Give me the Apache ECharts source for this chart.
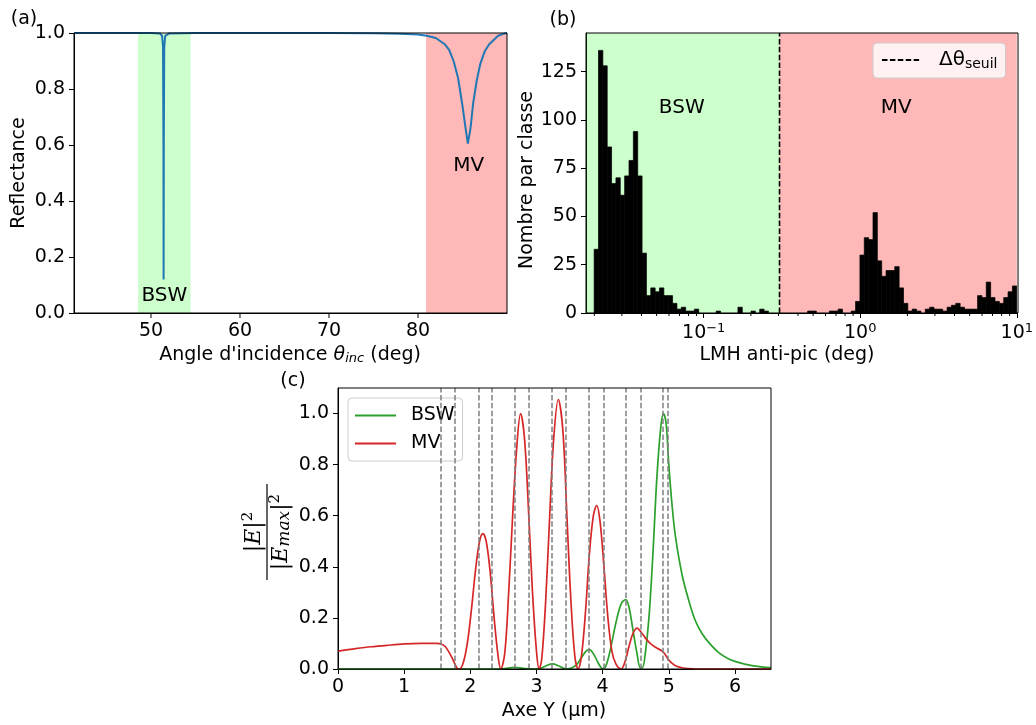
<!DOCTYPE html>
<html><head><meta charset="utf-8">
<script src="https://cdn.jsdelivr.net/npm/echarts@6/dist/echarts.min.js"></script>
<style>html,body{margin:0;padding:0;background:#fff}#c{width:1036px;height:725px}</style>
</head><body><div id="c"></div>
<script>
// ---------- Panel (a): reflectance vs incidence angle ----------
const angleDeg = [41.35,45,48,50,51.0,51.25,51.35,51.40,51.42,51.44,51.49,51.6,52,55,60,70,75,78,80,81,82,83,83.5,84,84.5,85,85.3,85.6,85.9,86.2,86.6,87,87.5,88,88.5,89,89.5,90];
const reflectance = [1.0,1.0,1.0,1.0,0.998,0.99,0.95,0.6,0.12,0.6,0.95,0.99,0.998,1.0,1.0,1.0,0.999,0.997,0.995,0.99,0.982,0.96,0.94,0.9,0.84,0.74,0.67,0.605,0.66,0.75,0.83,0.89,0.935,0.96,0.975,0.99,0.996,1.0];
const bandBswA = [48.54, 54.46];
const bandMvA = [80.9, 90];
const xTicksA = [50, 60, 70, 80];

// ---------- Panel (b): histogram of FWHM (log bins) ----------
const histLog10Start = -1.70;
const histLog10End = 1.0;
const histCounts = [33,136,128,86,67,70,61,71,79,94,71,31,9,13,11,13,9,9,5,2,3,1,1,2,0,0,0,0,1,0,0,0,0,3,0,0,1,0,2,1,0,0,0,0,0,0,0,0,0,1,1,0,0,0,1,1,2,0,0,1,6,30,39,38,52,27,19,22,22,24,13,5,1,2,1,0,2,3,2,2,1,3,4,5,3,2,2,2,9,8,16,8,6,5,8,11,14];
const fwhmThreshold = 0.305;
const xMinB = 0.0177, xMaxB = 10;
const yTicksB = [0,25,50,75,100,125];

// ---------- Panel (c): normalised field profiles ----------
const yBsw = [0,1,2,2.4,2.55,2.66,2.8,2.95,3.05,3.15,3.24,3.34,3.44,3.5,3.6,3.68,3.75,3.8,3.86,3.92,3.97,4.01,4.06,4.12,4.2,4.28,4.35,4.4,4.46,4.52,4.57,4.6,4.64,4.7,4.76,4.82,4.88,4.92,4.96,5.0,5.05,5.1,5.2,5.3,5.4,5.5,5.6,5.75,5.9,6.0,6.2,6.4,6.545];
const eBsw = [0,0,0,0,0.003,0.006,0.003,0,0.002,0.013,0.02,0.012,0.001,0.002,0.015,0.045,0.07,0.076,0.06,0.03,0.008,0,0.02,0.08,0.18,0.255,0.272,0.24,0.15,0.06,0.005,0.005,0.05,0.2,0.45,0.75,0.95,1.0,0.96,0.8,0.64,0.52,0.37,0.27,0.19,0.14,0.105,0.065,0.04,0.03,0.016,0.008,0.005];
const yMv = [0,0.25,0.5,0.75,1.0,1.25,1.5,1.56,1.62,1.68,1.74,1.8,1.84,1.9,1.96,2.02,2.08,2.14,2.19,2.24,2.3,2.36,2.42,2.46,2.52,2.58,2.64,2.7,2.76,2.82,2.88,2.94,3.0,3.04,3.08,3.14,3.2,3.26,3.33,3.4,3.46,3.52,3.58,3.63,3.68,3.74,3.8,3.86,3.91,3.96,4.02,4.08,4.14,4.2,4.28,4.34,4.4,4.46,4.52,4.58,4.65,4.72,4.8,4.9,4.95,5.0,5.05,5.1,5.2,5.3,5.5,6.545];
const eMv = [0.07,0.079,0.087,0.093,0.098,0.1,0.1,0.098,0.088,0.065,0.035,0.003,0,0.03,0.11,0.24,0.39,0.5,0.53,0.5,0.38,0.2,0.05,0,0.06,0.3,0.6,0.86,1.0,0.9,0.62,0.3,0.07,0,0.04,0.27,0.6,0.9,1.055,0.93,0.6,0.27,0.05,0,0.05,0.22,0.45,0.6,0.64,0.58,0.4,0.2,0.07,0.02,0,0.03,0.09,0.14,0.16,0.145,0.12,0.1,0.085,0.07,0.055,0.035,0.022,0.013,0.005,0.002,0,0];
const interfacesUm = [1.555,1.772,2.115,2.332,2.673,2.89,3.232,3.448,3.79,4.007,4.35,4.567,4.91,4.98];

// ---------- build ----------
const FONT = 'DejaVu Sans';
const FS = 19;
const zip = (a, b) => a.map((v, i) => [v, b[i]]);
const histW = (histLog10End - histLog10Start) / histCounts.length;
const histData = histCounts.map((c, i) => [Math.pow(10, histLog10Start + i * histW), Math.pow(10, histLog10Start + (i + 1) * histW), c]);
const minorB = [];
for (let e = -2; e <= 0; e++) for (let m = 2; m <= 9; m++) { const v = m * Math.pow(10, e); if (v > xMinB && v < xMaxB) minorB.push([v, 0]); }

const grids = [
  {left: 74, top: 33, width: 433, height: 280},
  {left: 586, top: 33, width: 432, height: 280},
  {left: 338, top: 388, width: 433, height: 281}
];
const axisCommon = {
  axisLine: {show: true, onZero: false, lineStyle: {color: '#000', width: 1}},
  axisTick: {show: true, inside: false, length: 5, lineStyle: {color: '#000', width: 1}},
  splitLine: {show: false},
  axisLabel: {color: '#000', fontFamily: FONT, fontSize: FS, margin: 9}
};
function ax(extra) { return Object.assign({}, JSON.parse(JSON.stringify(axisCommon)), extra); }

const chart = echarts.init(document.getElementById('c'), null, {renderer: 'canvas'});
const xA = ax({gridIndex: 0, type: 'value', min: 41.35, max: 90});
xA.axisTick.show = false; xA.axisLabel.show = false;
const xB = ax({gridIndex: 1, type: 'log', logBase: 10, min: xMinB, max: xMaxB});
xB.axisLabel.showMinLabel = false;
xB.axisLabel.formatter = function (v) {
  const l = Math.log10(v), e = Math.round(l);
  if (Math.abs(l - e) > 1e-6) return '';
  return '{b|10}{sup|' + (e < 0 ? '\u2212' + (-e) : e) + '}';
};
xB.axisLabel.rich = {b: {fontSize: FS, fontFamily: FONT, color: '#000'}, sup: {fontSize: 13, fontFamily: FONT, color: '#000', padding: [0, 0, 10, 0]}};
const xC = ax({gridIndex: 2, type: 'value', min: 0, max: 6.545, interval: 1});
xC.axisLabel.showMaxLabel = false;
xC.axisLabel.formatter = v => (Math.abs(v - Math.round(v)) < 1e-9 ? String(v) : '');

const yA = ax({gridIndex: 0, type: 'value', min: 0, max: 1, interval: 0.2});
yA.axisLabel.formatter = v => v.toFixed(1);
const yB = ax({gridIndex: 1, type: 'value', min: 0, max: 145, interval: 25});
yB.axisLabel.showMaxLabel = false;
yB.axisLabel.formatter = v => (yTicksB.indexOf(v) >= 0 ? String(v) : '');
const yC = ax({gridIndex: 2, type: 'value', min: 0, max: 1.1, interval: 0.2});
yC.axisLabel.showMaxLabel = false;
yC.axisLabel.formatter = v => (v <= 1.0001 ? v.toFixed(1) : '');

const GREEN_BAND = 'rgba(0,255,0,0.2)';
const RED_BAND = 'rgba(255,0,0,0.28)';

const option = {
  animation: false,
  backgroundColor: '#fff',
  textStyle: {fontFamily: FONT},
  grid: grids.map(g => Object.assign({containLabel: false, show: false}, g)),
  xAxis: [xA, xB, xC],
  yAxis: [yA, yB, yC],
  legend: [
    {
      data: ['dtheta'], left: 873, top: 43, orient: 'vertical',
      padding: [7, 8, 7, 8], itemWidth: 38, itemHeight: 14,
      itemStyle: {opacity: 0},
      backgroundColor: 'rgba(255,255,255,0.8)', borderColor: '#cccccc', borderWidth: 1, borderRadius: 4,
      formatter: () => '{a|\u0394\u03b8}{s|seuil}',
      textStyle: {color: '#000', padding: [0, 0, 0, 14], rich: {a: {fontSize: 20, fontFamily: FONT, color: '#000'}, s: {fontSize: 14, fontFamily: FONT, color: '#000', padding: [8, 0, 0, 0]}}}
    },
    {
      data: ['BSW', 'MV'], left: 348, top: 398, orient: 'vertical',
      padding: [8, 8, 8, 6], itemWidth: 41, itemHeight: 14, itemGap: 9,
      itemStyle: {opacity: 0},
      backgroundColor: 'rgba(255,255,255,0.8)', borderColor: '#cccccc', borderWidth: 1, borderRadius: 4,
      textStyle: {color: '#000', fontSize: FS, fontFamily: FONT, padding: [0, 0, 0, 10]}
    }
  ],
  series: [
    // (a) bands
    {type: 'line', xAxisIndex: 0, yAxisIndex: 0, data: [], z: 1, silent: true,
      markArea: {silent: true, data: [
        [{xAxis: bandBswA[0], itemStyle: {color: GREEN_BAND}}, {xAxis: bandBswA[1]}],
        [{xAxis: bandMvA[0], itemStyle: {color: RED_BAND}}, {xAxis: bandMvA[1]}]
      ]}},
    // (a) reflectance
    {type: 'line', name: 'R', xAxisIndex: 0, yAxisIndex: 0, data: zip(angleDeg, reflectance), z: 3,
      showSymbol: false, symbol: 'none', lineStyle: {color: '#1f77b4', width: 2}, clip: true},
    // (a) x ticks and labels at round angles
    {type: 'custom', xAxisIndex: 0, yAxisIndex: 0, z: 5, clip: false, silent: true, data: xTicksA.map(v => [v, 0]),
      encode: {x: 0, y: 1},
      renderItem: function (params, api) {
        const p = api.coord([api.value(0), 0]);
        return {type: 'group', children: [
          {type: 'line', shape: {x1: p[0], y1: p[1], x2: p[0], y2: p[1] + 5}, style: {stroke: '#000', lineWidth: 1}},
          {type: 'text', x: p[0], y: p[1] + 9, style: {text: String(api.value(0)), fontSize: FS, fontFamily: FONT, fill: '#000', align: 'center', verticalAlign: 'top'}}
        ]};
      }},
    // (b) bands
    {type: 'line', xAxisIndex: 1, yAxisIndex: 1, data: [], z: 4, silent: true,
      markArea: {silent: true, data: [
        [{xAxis: xMinB, itemStyle: {color: GREEN_BAND}}, {xAxis: fwhmThreshold}],
        [{xAxis: fwhmThreshold, itemStyle: {color: RED_BAND}}, {xAxis: xMaxB}]
      ]}},
    // (b) histogram
    {type: 'custom', name: 'hist', xAxisIndex: 1, yAxisIndex: 1, z: 5, clip: true,
      encode: {x: [0, 1], y: 2}, data: histData,
      renderItem: function (params, api) {
        const c = api.value(2);
        if (!(c > 0)) return null;
        const p0 = api.coord([api.value(0), c]);
        const p1 = api.coord([api.value(1), 0]);
        return {type: 'rect', shape: {x: p0[0], y: p0[1], width: p1[0] - p0[0], height: p1[1] - p0[1]}, style: {fill: '#000', stroke: '#000', lineWidth: 0.7}};
      }},
    // (b) log minor ticks
    {type: 'custom', xAxisIndex: 1, yAxisIndex: 1, z: 5, clip: false, silent: true, data: minorB,
      encode: {x: 0, y: 1},
      renderItem: function (params, api) {
        const p = api.coord([api.value(0), 0]);
        return {type: 'line', shape: {x1: p[0], y1: p[1], x2: p[0], y2: p[1] + 3}, style: {stroke: '#000', lineWidth: 1}};
      }},
    // (b) threshold
    {type: 'line', name: 'dtheta', xAxisIndex: 1, yAxisIndex: 1, z: 6, data: [[fwhmThreshold, 0], [fwhmThreshold, 145]],
      symbol: 'none', showSymbol: false, itemStyle: {color: '#000'}, lineStyle: {color: '#000', width: 1.6, type: [5.5, 2.4]}},
    // (c) interfaces
    {type: 'line', xAxisIndex: 2, yAxisIndex: 2, data: [], z: 2, silent: true,
      markLine: {silent: true, symbol: ['none', 'none'], label: {show: false},
        lineStyle: {color: '#808080', width: 1.5, type: [5.5, 2.4]},
        data: interfacesUm.map(v => ({xAxis: v}))}},
    {type: 'line', name: 'BSW', xAxisIndex: 2, yAxisIndex: 2, data: zip(yBsw, eBsw), z: 3,
      smooth: 0.35, symbol: 'none', showSymbol: false, lineStyle: {color: '#2ca02c', width: 1.7}, itemStyle: {color: '#2ca02c'}},
    {type: 'line', name: 'MV', xAxisIndex: 2, yAxisIndex: 2, data: zip(yMv, eMv), z: 3,
      smooth: 0.35, symbol: 'none', showSymbol: false, lineStyle: {color: '#d62728', width: 1.7}, itemStyle: {color: '#d62728'}}
  ]
};
chart.setOption(option);

function txt(x, y, text, opts) {
  opts = opts || {};
  return {type: 'text', x: x, y: y, z: 50, rotation: opts.rotation || 0,
    style: Object.assign({text: text, fontSize: FS, fontFamily: FONT, fill: '#000', align: 'center', verticalAlign: 'middle'}, opts.style || {})};
}
const pA1 = chart.convertToPixel({xAxisIndex: 0, yAxisIndex: 0}, [51.5, 0.061]);
const pA2 = chart.convertToPixel({xAxisIndex: 0, yAxisIndex: 0}, [85.7, 0.525]);
const pB1 = chart.convertToPixel({xAxisIndex: 1, yAxisIndex: 1}, [0.0724, 106.3]);
const pB2 = chart.convertToPixel({xAxisIndex: 1, yAxisIndex: 1}, [1.70, 106.3]);

const borders = grids.map(g => ({type: 'rect', z: 40, silent: true, shape: {x: g.left, y: g.top, width: g.width, height: g.height}, style: {fill: null, stroke: '#000', lineWidth: 1}}));

const serif = 'DejaVu Serif';
const graphics = borders.concat([
  txt(24, 19, '(a)'), txt(563, 20, '(b)'), txt(293, 381, '(c)'),
  txt(pA1[0], pA1[1], 'BSW', {style: {fontSize: 20}}),
  txt(pA2[0], pA2[1], 'MV', {style: {fontSize: 20}}),
  txt(pB1[0], pB1[1], 'BSW', {style: {fontSize: 20}}),
  txt(pB2[0], pB2[1], 'MV', {style: {fontSize: 20}}),
  txt(19, 173, 'Reflectance', {rotation: Math.PI / 2}),
  txt(290, 355, '{t|Angle d\'incidence }{i|\u03b8}{s|inc}{t| (deg)}', {style: {rich: {
    t: {fontSize: FS, fontFamily: FONT}, i: {fontSize: FS, fontFamily: FONT, fontStyle: 'italic'},
    s: {fontSize: 13, fontFamily: FONT, fontStyle: 'italic', padding: [8, 0, 0, 0]}}}}),
  txt(527, 180, 'Nombre par classe', {rotation: Math.PI / 2}),
  txt(787, 355, 'LMH anti-pic (deg)'),
  txt(554, 711, 'Axe Y (\u00b5m)'),
  {type: 'group', x: 267, y: 532, rotation: Math.PI / 2, z: 50, children: [
    {type: 'text', x: 0, y: -13, style: {text: '{n||E|}{p|2}', align: 'center', verticalAlign: 'middle', rich: {
      n: {fontSize: 22, fontFamily: serif, fontStyle: 'italic', fill: '#000'},
      p: {fontSize: 15, fontFamily: serif, fill: '#000', padding: [0, 0, 12, 0]}}}},
    {type: 'line', shape: {x1: -48, y1: 0, x2: 48, y2: 0}, style: {stroke: '#000', lineWidth: 1.2}},
    {type: 'text', x: 0, y: 14, style: {text: '{n||E}{b|max}{n||}{p|2}', align: 'center', verticalAlign: 'middle', rich: {
      n: {fontSize: 22, fontFamily: serif, fontStyle: 'italic', fill: '#000'},
      b: {fontSize: 17, fontFamily: serif, fontStyle: 'italic', fill: '#000', padding: [8, 0, 0, 0]},
      p: {fontSize: 15, fontFamily: serif, fill: '#000', padding: [0, 0, 12, 0]}}}}
  ]}
]);
chart.setOption({graphic: graphics});
</script></body></html>
